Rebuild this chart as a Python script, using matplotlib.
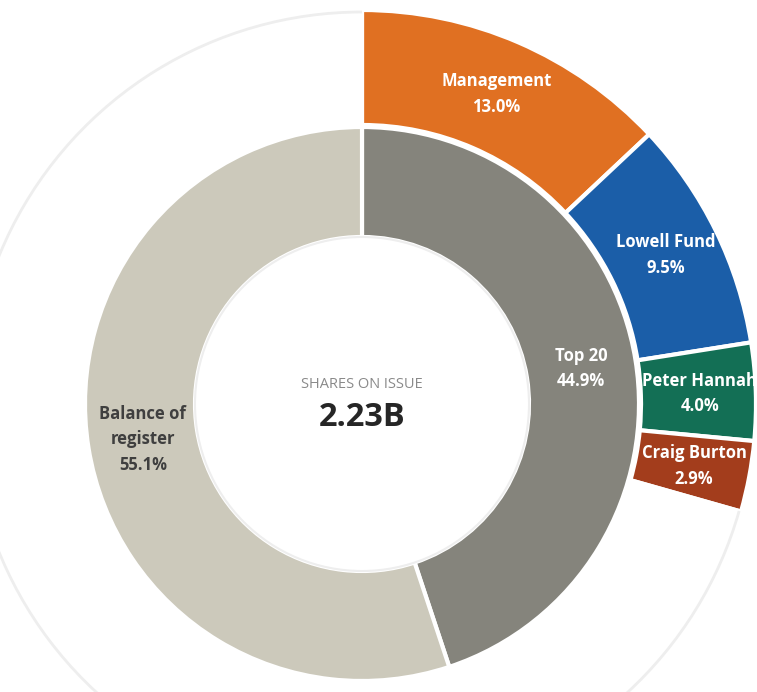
import numpy as np
import matplotlib.pyplot as plt
from matplotlib.patches import Arc

# inner ring
inner_labels = ['Top 20', 'Balance of\nregister']
inner_values = [44.9, 55.1]
inner_colors = ['#85847c', '#ccc9bb']
inner_text = ['white', '#3f3f3f']

# outer ring (holders inside the Top 20; rest left blank)
outer_labels = ['Management', 'Lowell Fund', 'Peter Hannah', 'Craig Burton']
outer_values = [13.0, 9.5, 4.0, 2.9]
outer_colors = ['#e07022', '#1b5ea8', '#136f55', '#a33d1c']

total_shares = '2.23B'

plt.rcParams['font.family'] = ['Open Sans', 'DejaVu Sans']

fig = plt.figure(figsize=(7.57, 6.92), dpi=100)
ax = fig.add_axes([0, 0, 1, 1])

cx, cy = 362, 288
r_out, r_mid, r_in = 394, 279, 167

rest = 100 - sum(outer_values)
wedges, _ = ax.pie(outer_values + [rest], colors=outer_colors + ['white'],
                   startangle=90, counterclock=False, radius=r_out,
                   center=(cx, cy), frame=True,
                   wedgeprops=dict(width=r_out - r_mid, edgecolor='white', linewidth=3))
# faint outline only along the outer edge of the blank part
end_angle = 90 - sum(outer_values) * 3.6
ax.add_patch(Arc((cx, cy), 2 * r_out - 4, 2 * r_out - 4, theta1=90, theta2=360 + end_angle,
                 edgecolor='#eeeeee', linewidth=2))

ax.pie(inner_values, colors=inner_colors, startangle=90, counterclock=False,
       radius=r_mid - 2, center=(cx, cy), frame=True,
       wedgeprops=dict(width=r_mid - 2 - r_in, edgecolor='white', linewidth=3))
ax.add_patch(plt.Circle((cx, cy), r_in, fill=False, edgecolor='#eeeeee', linewidth=1.5))

ax.set_xlim(0, 757)
ax.set_ylim(0, 692)
ax.set_aspect('equal')
ax.axis('off')

# labels for outer ring
start = 90.0
for lab, val in zip(outer_labels, outer_values):
    mid = np.radians(start - val * 3.6 / 2)
    start -= val * 3.6
    r = 338
    ax.text(cx + r * np.cos(mid), cy + r * np.sin(mid), f'{lab}\n{val:.1f}%',
            ha='center', va='center', color='white', fontsize=12,
            fontweight='bold', linespacing=1.55)

start = 90.0
for lab, val, tc in zip(inner_labels, inner_values, inner_text):
    mid = np.radians(start - val * 3.6 / 2)
    start -= val * 3.6
    r = 222
    ax.text(cx + r * np.cos(mid), cy + r * np.sin(mid), f'{lab}\n{val:.1f}%',
            ha='center', va='center', color=tc, fontsize=12,
            fontweight='bold', linespacing=1.55)

ax.text(cx, cy + 19, 'SHARES ON ISSUE', ha='center', va='center',
        color='#8a8a8a', fontsize=10.5)
ax.text(cx, cy - 14, total_shares, ha='center', va='center',
        color='#262626', fontsize=23.5, fontweight='bold')

fig.savefig('out.png', dpi=100)
